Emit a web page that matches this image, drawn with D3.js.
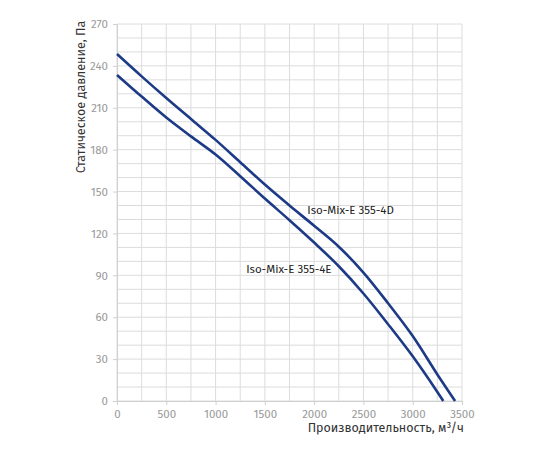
<!DOCTYPE html>
<html>
<head>
<meta charset="utf-8">
<script src="https://cdn.jsdelivr.net/npm/d3@7"></script>
<style>
  body { margin: 0; background: #fff; }
  text { font-family: "Fira Sans", "Noto Sans", sans-serif; }
</style>
</head>
<body>
<div class="canvas"></div>
<script>
// flow, m3/h
const flow4D = [0, 250, 500, 750, 1000, 1250, 1500, 1750, 2000, 2250, 2500, 2750, 3000, 3250, 3430]
const pres4D = [248.5, 232.5, 217, 202, 187, 171, 155, 140, 125.5, 110.5, 92, 70, 46.5, 19, 0]

const flow4E = [0, 250, 500, 750, 1000, 1250, 1500, 1750, 2000, 2250, 2500, 2750, 3000, 3250, 3310]
const pres4E = [233.5, 218, 203, 189.5, 176.5, 161, 145, 129.5, 113.5, 96.5, 77, 55, 32, 6.5, 0]

const xTicks = [0, 500, 1000, 1500, 2000, 2500, 3000, 3500]
const yTicks = [0, 30, 60, 90, 120, 150, 180, 210, 240, 270]
const labels = ["Iso-Mix-E 355-4D", "Iso-Mix-E 355-4E"]

const width = 550
const height = 450
const margin = {top: 24, right: 88, bottom: 49, left: 117}

const svg = d3.select(".canvas")
    .append("svg")
    .attr("width", width)
    .attr("height", height)

const x = d3.scaleLinear().domain([0, 3500]).range([margin.left, width - margin.right])
const y = d3.scaleLinear().domain([0, 270]).range([height - margin.bottom, margin.top])

// grid
const grid = svg.append("g")
grid.selectAll(".gx")
    .data(d3.range(0, 3501, 250))
    .enter().append("line")
    .attr("x1", d => x(d)).attr("x2", d => x(d))
    .attr("y1", y(0)).attr("y2", y(270))
    .attr("stroke", "#dcdcdc").attr("stroke-width", 1)
grid.selectAll(".gy")
    .data(d3.range(0, 271, 10))
    .enter().append("line")
    .attr("x1", x(0)).attr("x2", x(3500))
    .attr("y1", d => y(d)).attr("y2", d => y(d))
    .attr("stroke", "#dcdcdc").attr("stroke-width", 1)

// axes
const xAxis = svg.append("g")
    .attr("transform", `translate(0,${y(0)})`)
    .call(d3.axisBottom(x).tickValues(xTicks).tickFormat(d3.format("d")).tickSize(4).tickPadding(5))
const yAxis = svg.append("g")
    .attr("transform", `translate(${x(0)},0)`)
    .call(d3.axisLeft(y).tickValues(yTicks).tickFormat(d3.format("d")).tickSize(4).tickPadding(5))

;[xAxis, yAxis].forEach(a => {
    a.select(".domain").attr("stroke", "#d0d0d0")
    a.selectAll(".tick line").attr("stroke", "#d0d0d0")
    a.selectAll(".tick text")
        .attr("fill", "#9a9a9a")
        .style("font-size", "11.5px")
})

svg.append("text")
    .attr("x", x(3500) + 2)
    .attr("y", 432)
    .attr("text-anchor", "end")
    .attr("fill", "#333")
    .style("font-size", "12.5px")
    .text("Производительность, м³/ч")

svg.append("text")
    .attr("transform", "translate(85,97) rotate(-90)")
    .attr("text-anchor", "middle")
    .attr("fill", "#333")
    .style("font-size", "12.5px")
    .text("Статическое давление, Па")

// curves
const line = d3.line()
    .x(d => x(d[0]))
    .y(d => y(d[1]))
    .curve(d3.curveCatmullRom.alpha(0.5))

const series = [d3.zip(flow4D, pres4D), d3.zip(flow4E, pres4E)]

svg.selectAll(".curve")
    .data(series)
    .enter().append("path")
    .attr("fill", "none")
    .attr("stroke", "#1d3a87")
    .attr("stroke-width", 2.6)
    .attr("d", line)

svg.append("text")
    .attr("x", x(1930)).attr("y", y(134))
    .attr("fill", "#222")
    .style("font-size", "11.5px")
    .text(labels[0])

svg.append("text")
    .attr("x", x(1310)).attr("y", y(92))
    .attr("fill", "#222")
    .style("font-size", "11.5px")
    .text(labels[1])
</script>
</body>
</html>
